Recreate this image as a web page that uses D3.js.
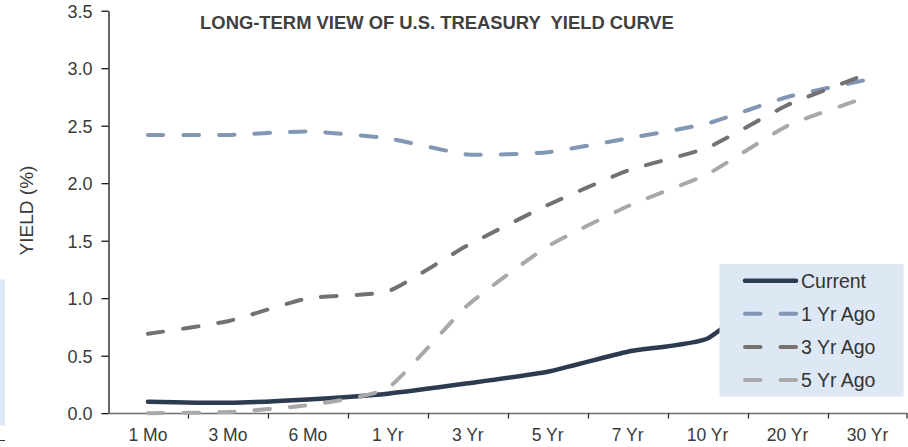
<!DOCTYPE html>
<html><head><meta charset="utf-8">
<script src="https://cdn.jsdelivr.net/npm/d3@7"></script>
<style>
body{margin:0;background:#fff;}
text{font-family:"Liberation Sans",Arial,sans-serif;}
</style></head>
<body><svg id="c" width="908" height="447"></svg>
<script>
const categories = ["1 Mo","3 Mo","6 Mo","1 Yr","3 Yr","5 Yr","7 Yr","10 Yr","20 Yr","30 Yr"];
const current  = [0.10,0.09,0.12,0.17,0.26,0.36,0.535,0.65,1.17,1.25];
const yr1Ago   = [2.42,2.42,2.45,2.39,2.25,2.27,2.39,2.52,2.75,2.90];
const yr3Ago   = [0.69,0.80,1.00,1.06,1.46,1.81,2.11,2.31,2.68,2.95];
const yr5Ago   = [0.00,0.01,0.07,0.22,0.94,1.45,1.80,2.08,2.50,2.75];
const seriesNames = ["Current","1 Yr Ago","3 Yr Ago","5 Yr Ago"];
const yTicks = [0,0.5,1.0,1.5,2.0,2.5,3.0,3.5];
const title = "LONG-TERM VIEW OF U.S. TREASURY\u00a0 YIELD CURVE";
const yLabel = "YIELD (%)";

const colors = ["#2c3b50","#8197b3","#767171","#a9a9a9"];
const dashes = [null,"15.5,20","15.5,20","15.5,20"];
const widths = [4.5,4,4,4];
const seriesData = [current,yr1Ago,yr3Ago,yr5Ago];

const svg = d3.select("#c");
svg.append("rect").attr("width",908).attr("height",447).attr("fill","#fff");

// artefacts at left edge
svg.append("rect").attr("x",0).attr("y",279.5).attr("width",5).attr("height",146).attr("fill","#dce8f5");
svg.append("line").attr("x1",0).attr("x2",5).attr("y1",440.5).attr("y2",440.5).attr("stroke","#333").attr("stroke-width",1);

const x = d3.scaleBand().domain(categories).range([108,907.5]).padding(0);
const y = d3.scaleLinear().domain([0,3.5]).range([413.2,10.7]);
const cx = d => x(d)+x.bandwidth()/2;

// Y axis
const ya = svg.append("g").attr("transform","translate(108.5,0)")
  .call(d3.axisLeft(y).tickValues(yTicks).tickFormat(d3.format(".1f")).tickSize(7).tickSizeOuter(0).tickPadding(9));
ya.select(".domain").attr("stroke","#000").attr("stroke-width",1.2);
ya.selectAll(".tick line").attr("stroke","#000").attr("stroke-width",1.2);
ya.selectAll(".tick text").attr("fill","#3a3a3a").style("font-size","18px").attr("dy","0.36em");

// X axis
const xa = svg.append("g").attr("transform","translate(0,413.5)");
xa.append("line").attr("x1",108).attr("x2",907.5).attr("y1",0).attr("y2",0).attr("stroke","#6e6e6e").attr("stroke-width",1.3);
xa.selectAll("line.tk").data(categories.slice(1).concat(["__end"])).join("line").attr("class","tk")
  .attr("x1",d=> d==="__end" ? x.range()[1]-0.5 : Math.round(x(d))+0.5)
  .attr("x2",d=> d==="__end" ? x.range()[1]-0.5 : Math.round(x(d))+0.5)
  .attr("y1",0).attr("y2",5).attr("stroke","#222").attr("stroke-width",1.2);
xa.selectAll("text").data(categories).join("text")
  .attr("x",d=>cx(d)).attr("y",27.5).attr("text-anchor","middle")
  .attr("fill","#3a3a3a").style("font-size","17.5px").text(d=>d);

// Title
svg.append("text").attr("x",437).attr("y",29).attr("text-anchor","middle")
  .attr("fill","#404040").style("font-size","18.4px").style("font-weight","bold").text(title);

// Y label
svg.append("text").attr("transform","translate(33,210.5) rotate(-90)").attr("text-anchor","middle")
  .attr("fill","#3a3a3a").style("font-size","19px").text(yLabel);

// Lines
const line = d3.line().x((d,i)=>cx(categories[i])).y(d=>y(d)).curve(d3.curveCardinal.tension(0.5));
seriesData.forEach((s,k)=>{
  const p = svg.append("path").datum(s).attr("d",line).attr("fill","none")
    .attr("stroke",colors[k]).attr("stroke-width",widths[k])
    .attr("stroke-linecap","round").attr("stroke-linejoin","round");
  if(dashes[k]) p.attr("stroke-dasharray",dashes[k]);
});

// Legend
const lg = svg.append("g");
lg.append("rect").attr("x",719.5).attr("y",264).attr("width",184).attr("height",132.5).attr("fill","#dde8f4");
seriesNames.forEach((n,k)=>{
  const cy = 280.7 + k*33.1;
  const l = lg.append("line").attr("x1",745).attr("x2",796).attr("y1",cy).attr("y2",cy)
    .attr("stroke",colors[k]).attr("stroke-width",widths[k]).attr("stroke-linecap","round");
  if(dashes[k]) l.attr("stroke-dasharray",dashes[k]);
  lg.append("text").attr("x",801).attr("y",cy+6.8).attr("fill","#333")
    .style("font-size","19.5px").text(n);
});
</script></body></html>
